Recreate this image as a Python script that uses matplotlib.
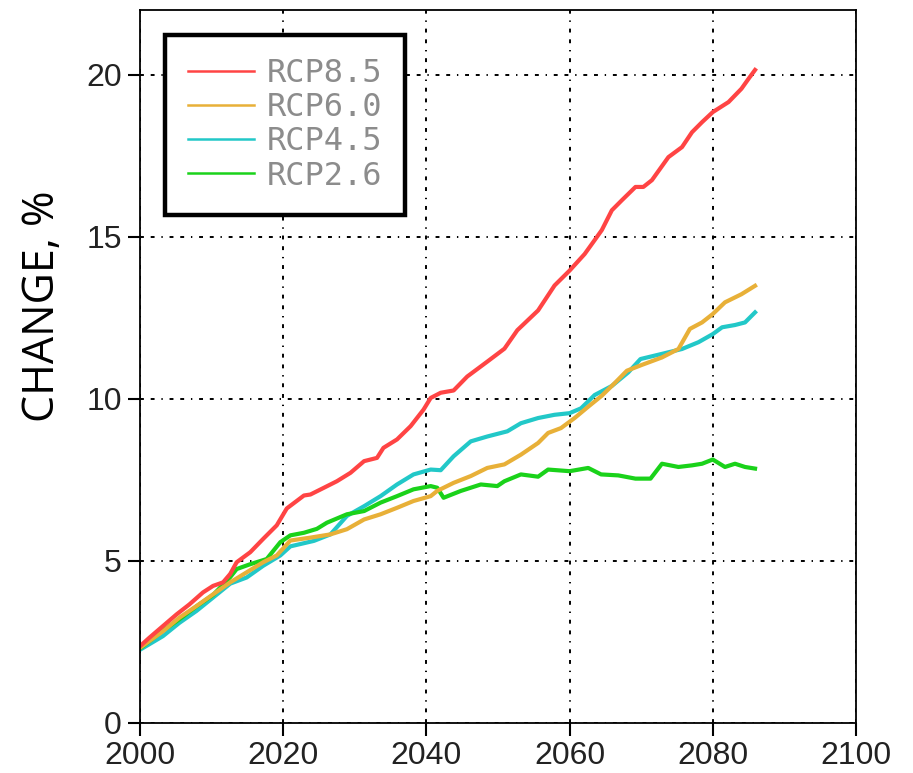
import matplotlib
matplotlib.use("Agg")
import matplotlib.pyplot as plt

# values
years_85 = [2000, 2001.3, 2003.2, 2005.1, 2006.9, 2008.8, 2010.2, 2011.6, 2012.6, 2013.5,
            2015.4, 2017.2, 2019.1, 2020.5, 2022.9, 2023.8, 2025.7, 2027.5, 2029.4, 2031.3,
            2033.1, 2034.0, 2035.9, 2037.8, 2039.6, 2040.6, 2042.0, 2043.8, 2045.7, 2048.5,
            2050.9, 2052.7, 2055.6, 2057.9, 2060.0, 2062.1, 2063.5, 2064.5, 2065.9, 2067.3,
            2069.2, 2070.3, 2071.5, 2073.8, 2075.7, 2077.1, 2078.5, 2080.0, 2082.2, 2084.0,
            2085.0, 2085.9]
rcp85 = [2.37, 2.63, 2.99, 3.35, 3.66, 4.03, 4.23, 4.34, 4.6, 4.96,
         5.27, 5.68, 6.1, 6.62, 7.02, 7.05, 7.26, 7.46, 7.72, 8.08,
         8.18, 8.49, 8.75, 9.16, 9.67, 10.03, 10.19, 10.26, 10.69, 11.15,
         11.55, 12.12, 12.73, 13.5, 13.96, 14.47, 14.9, 15.21, 15.82, 16.13,
         16.54, 16.54, 16.75, 17.46, 17.77, 18.23, 18.54, 18.85, 19.16, 19.57,
         19.88, 20.15]

years_60 = [2000, 2003.2, 2005.5, 2007.9, 2010.2, 2012.6, 2014.9, 2017.2, 2019.1, 2021.0,
            2023.8, 2026.6, 2028.9, 2031.3, 2033.6, 2035.9, 2038.2, 2040.6, 2041.5, 2043.8,
            2046.2, 2048.5, 2050.9, 2053.2, 2055.6, 2057.0, 2058.8, 2060.7, 2062.6, 2064.5,
            2066.4, 2068.0, 2070.1, 2072.9, 2075.2, 2076.8, 2078.5, 2080.0, 2081.7, 2084.0,
            2085.9]
rcp60 = [2.32, 2.83, 3.25, 3.61, 3.97, 4.34, 4.65, 4.96, 5.17, 5.63,
         5.72, 5.82, 5.98, 6.28, 6.44, 6.64, 6.85, 7.0, 7.16, 7.41,
         7.62, 7.87, 7.98, 8.28, 8.64, 8.95, 9.1, 9.41, 9.76, 10.1,
         10.51, 10.87, 11.05, 11.28, 11.54, 12.16, 12.36, 12.62, 12.98, 13.23,
         13.49]

years_45 = [2000, 2003.2, 2005.5, 2007.9, 2010.2, 2012.6, 2014.9, 2017.2, 2019.6, 2021.0,
            2024.3, 2026.6, 2028.9, 2031.3, 2033.6, 2035.9, 2038.2, 2040.6, 2042.0, 2043.8,
            2046.2, 2048.5, 2051.3, 2053.2, 2055.6, 2057.9, 2060.0, 2061.6, 2063.5, 2065.9,
            2068.2, 2069.9, 2072.9, 2075.7, 2078.0, 2080.0, 2081.3, 2083.1, 2084.5, 2085.9]
rcp45 = [2.26, 2.68, 3.09, 3.46, 3.87, 4.3, 4.49, 4.85, 5.17, 5.45,
         5.62, 5.82, 6.39, 6.69, 7.0, 7.36, 7.67, 7.82, 7.8, 8.23,
         8.69, 8.84, 9.0, 9.25, 9.41, 9.51, 9.56, 9.71, 10.12, 10.4,
         10.82, 11.23, 11.39, 11.54, 11.75, 12.0, 12.21, 12.28, 12.36, 12.67]

years_26 = [2000, 2003.2, 2005.5, 2007.9, 2010.2, 2012.6, 2013.5, 2015.4, 2017.7, 2019.6,
            2021.0, 2022.9, 2024.7, 2026.1, 2028.9, 2031.3, 2033.6, 2035.9, 2038.2, 2040.6,
            2041.5, 2042.4, 2044.8, 2047.6, 2049.9, 2050.9, 2053.2, 2055.6, 2057.0, 2060.0,
            2062.6, 2064.4, 2066.8, 2069.2, 2071.3, 2072.9, 2075.2, 2077.1, 2078.5, 2080.0,
            2081.7, 2083.1, 2084.5, 2085.9]
rcp26 = [2.3, 2.85, 3.2, 3.6, 3.95, 4.5, 4.75, 4.9, 5.06, 5.58,
         5.79, 5.87, 5.99, 6.18, 6.44, 6.54, 6.8, 7.0, 7.21, 7.31,
         7.26, 6.95, 7.16, 7.36, 7.31, 7.46, 7.67, 7.6, 7.82, 7.77,
         7.87, 7.67, 7.64, 7.54, 7.54, 8.0, 7.9, 7.95, 8.0, 8.13,
         7.9, 8.0, 7.9, 7.85]

labels = ["RCP8.5", "RCP6.0", "RCP4.5", "RCP2.6"]
colors = ["#ff4444", "#e8b038", "#22c8c8", "#1ad21a"]

xticks = [2000, 2020, 2040, 2060, 2080, 2100]
yticks = [0, 5, 10, 15, 20]

fig = plt.figure(figsize=(9.13, 7.73), dpi=100)
ax = fig.add_axes([140 / 913, 50 / 773, 716 / 913, 713 / 773])

series = [(years_85, rcp85), (years_60, rcp60), (years_45, rcp45), (years_26, rcp26)]
handles = []
for (xs, ys), lab, col in zip(series, labels, colors):
    h, = ax.plot(xs, ys, color=col, lw=3.0, label=lab, solid_joinstyle="round")
    handles.append(h)

# draw order: cyan under, red on top
handles[2].set_zorder(2.1)
handles[3].set_zorder(2.2)
handles[1].set_zorder(2.3)
handles[0].set_zorder(2.4)

ax.set_xlim(2000, 2100)
ax.set_ylim(0, 22)
ax.set_xticks(xticks)
ax.set_yticks(yticks)

ax.grid(True, color="black", lw=1.4, linestyle=(0, (2, 3.5, 2, 3.5, 0.7, 3.5)))
ax.set_axisbelow(True)

for sp in ax.spines.values():
    sp.set_linewidth(1.3)
ax.tick_params(direction="out", length=9, width=1.5, pad=4,
               labelsize=23, labelcolor="#222222")
for t in ax.get_xticklabels() + ax.get_yticklabels():
    t.set_family("Liberation Sans")

ax.set_ylabel("CHANGE, %", fontsize=31, family="Open Sans")
ax.yaxis.set_label_coords(-0.105, 0.585)

leg = ax.legend(handles=handles, loc="upper left", bbox_to_anchor=(0.035, 0.965),
                borderaxespad=0, fancybox=False, framealpha=1,
                handlelength=2.05, handletextpad=0.4, borderpad=0.72,
                labelspacing=0.1,
                prop={"family": "DejaVu Sans Mono", "size": 23})
leg.get_frame().set_edgecolor("black")
leg.get_frame().set_linewidth(3.2)
for t in leg.get_texts():
    t.set_color("#8c8c8c")
for l in leg.get_lines():
    l.set_linewidth(1.8)

fig.savefig("out.png", dpi=100)
